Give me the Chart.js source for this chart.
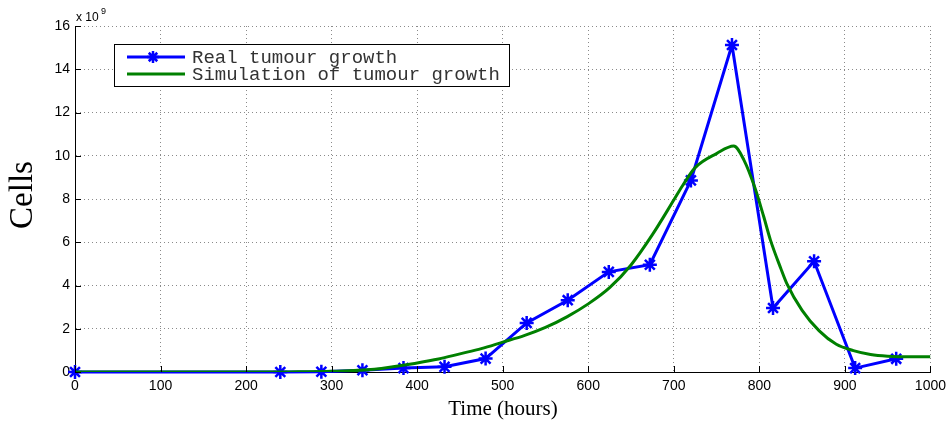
<!DOCTYPE html>
<html>
<head>
<meta charset="utf-8">
<script src="https://cdn.jsdelivr.net/npm/chart.js@4.4.1/dist/chart.umd.min.js"></script>
<style>
  html, body { margin: 0; padding: 0; background: #fff; }
  #wrap { width: 952px; height: 424px; }
</style>
</head>
<body>
<div id="wrap"><canvas id="tumourChart" width="952" height="424"></canvas></div>
<script>
// ===== DATA (cells in units of 1e9) =====
const realTime = [0, 240, 288, 336, 384, 432, 480, 528, 576, 624, 672, 720, 768, 816, 864, 912, 960];
const realCells = [0, 0, 0.01, 0.08, 0.18, 0.24, 0.62, 2.27, 3.32, 4.63, 4.96, 8.86, 15.12, 2.96, 5.12, 0.18, 0.61];

const simTime = [0, 100, 200, 250, 300, 350, 400, 425, 450, 475, 500, 525, 550, 575, 600, 625, 650, 675, 700,
  710, 725, 750, 770, 782, 795, 805, 813, 825, 832, 850, 870, 890, 910, 930, 950, 975, 1000];
const simCells = [0, 0, 0, 0.005, 0.03, 0.13, 0.42, 0.6, 0.84, 1.08, 1.38, 1.68, 2.06, 2.55, 3.15, 3.9, 4.95, 6.35, 7.95,
  8.6, 9.45, 10.1, 10.45, 9.8, 8.5, 7.2, 6.1, 4.8, 4.1, 2.85, 1.9, 1.28, 0.99, 0.81, 0.73, 0.7, 0.7];

const xTicks = [0, 100, 200, 300, 400, 500, 600, 700, 800, 900, 1000];
const yTicks = [0, 2, 4, 6, 8, 10, 12, 14, 16];

const legendLabels = ["Real tumour growth", "Simulation of tumour growth"];

const BLUE = "#0000ff";
const GREEN = "#008000";
const tickFont = { family: "'Liberation Sans', Arial, Helvetica, sans-serif", size: 14 };

// ===== EXTRAS: inward ticks, titles, multiplier, legend =====
const extras = {
  id: "extras",
  afterDraw(chart) {
    const { ctx, chartArea: a, scales: { x, y } } = chart;
    ctx.save();

    // inward tick marks on the left and bottom axes
    ctx.strokeStyle = "#000";
    ctx.lineWidth = 1;
    ctx.beginPath();
    xTicks.forEach(v => {
      const px = Math.round(x.getPixelForValue(v)) + 0.5;
      ctx.moveTo(px, a.bottom);
      ctx.lineTo(px, a.bottom - 6);
    });
    yTicks.forEach(v => {
      const py = Math.round(y.getPixelForValue(v)) + 0.5;
      ctx.moveTo(a.left, py);
      ctx.lineTo(a.left + 6, py);
    });
    ctx.stroke();

    // axis titles
    ctx.fillStyle = "#000";
    ctx.font = "21px 'Liberation Serif', 'DejaVu Serif', serif";
    ctx.textAlign = "center";
    ctx.textBaseline = "middle";
    ctx.fillText("Time (hours)", 503, 409);

    ctx.save();
    ctx.translate(23, 195);
    ctx.rotate(-Math.PI / 2);
    ctx.font = "33px 'Liberation Serif', 'DejaVu Serif', serif";
    ctx.fillText("Cells", 0, 0);
    ctx.restore();

    // exponent above the y axis
    ctx.textAlign = "left";
    ctx.textBaseline = "alphabetic";
    ctx.font = "12px 'Liberation Sans', Arial, sans-serif";
    ctx.fillText("x 10", a.left + 1, 21);
    ctx.font = "9px 'Liberation Sans', Arial, sans-serif";
    ctx.fillText("9", a.left + 26, 14);

    // legend box
    const bx = 114, by = 44, bw = 395, bh = 42;
    ctx.fillStyle = "#fff";
    ctx.fillRect(bx, by, bw, bh);
    ctx.strokeStyle = "#000";
    ctx.lineWidth = 1;
    ctx.strokeRect(bx + 0.5, by + 0.5, bw, bh);

    const rows = [57, 74];
    ctx.lineWidth = 3;
    ctx.strokeStyle = BLUE;
    ctx.beginPath();
    ctx.moveTo(127, rows[0]);
    ctx.lineTo(185, rows[0]);
    ctx.stroke();
    // asterisk marker
    ctx.lineWidth = 2.5;
    ctx.beginPath();
    const r = 6, cx = 153, cy = rows[0];
    for (let k = 0; k < 4; k++) {
      const ang = k * Math.PI / 4;
      ctx.moveTo(cx - r * Math.cos(ang), cy - r * Math.sin(ang));
      ctx.lineTo(cx + r * Math.cos(ang), cy + r * Math.sin(ang));
    }
    ctx.stroke();

    ctx.lineWidth = 3;
    ctx.strokeStyle = GREEN;
    ctx.beginPath();
    ctx.moveTo(127, rows[1]);
    ctx.lineTo(185, rows[1]);
    ctx.stroke();

    ctx.fillStyle = "#333";
    ctx.font = "19px 'Courier New', 'Liberation Mono', monospace";
    ctx.textBaseline = "middle";
    legendLabels.forEach((t, i) => ctx.fillText(t, 192, rows[i] + 1));

    ctx.restore();
  }
};

// ===== CHART =====
new Chart(document.getElementById("tumourChart"), {
  type: "line",
  data: {
    datasets: [
      {
        label: legendLabels[0],
        data: realTime.map((t, i) => ({ x: t, y: realCells[i] })),
        borderColor: BLUE,
        backgroundColor: BLUE,
        borderWidth: 3,
        pointStyle: "star",
        pointRadius: 7,
        pointBorderWidth: 2.5,
        tension: 0,
        clip: false,
        order: 1
      },
      {
        label: legendLabels[1],
        data: simTime.map((t, i) => ({ x: t, y: simCells[i] })),
        borderColor: GREEN,
        borderWidth: 3,
        pointRadius: 0,
        cubicInterpolationMode: "monotone",
        order: 0
      }
    ]
  },
  options: {
    responsive: false,
    animation: false,
    layout: { padding: { top: 26, right: 19, left: 0, bottom: 0 } },
    plugins: {
      legend: { display: false },
      tooltip: { enabled: false }
    },
    scales: {
      x: {
        type: "linear",
        min: 0,
        max: 1000,
        afterFit: s => { s.height = 52; },
        afterBuildTicks: s => { s.ticks = xTicks.map(v => ({ value: v })); },
        ticks: { color: "#000", font: tickFont, padding: 6, maxRotation: 0, callback: v => String(v) },
        grid: { color: "#8a8a8a", drawTicks: false },
        border: { display: true, color: "#000", width: 1, dash: [1, 3] }
      },
      y: {
        min: 0,
        max: 16,
        afterFit: s => { s.width = 75; },
        afterBuildTicks: s => { s.ticks = yTicks.map(v => ({ value: v })); },
        ticks: { color: "#000", font: tickFont, padding: 5, callback: v => String(v) },
        grid: { color: "#8a8a8a", drawTicks: false },
        border: { display: true, color: "#000", width: 1, dash: [1, 3] }
      }
    }
  },
  plugins: [extras]
});
</script>
</body>
</html>
